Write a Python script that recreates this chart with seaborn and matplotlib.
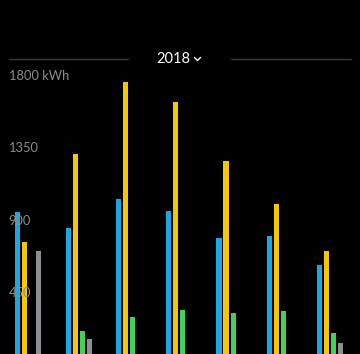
import matplotlib
matplotlib.use("Agg")
import matplotlib.pyplot as plt
from matplotlib.lines import Line2D
import seaborn as sns
import pandas as pd

months = ["Jan", "Feb", "Mar", "Apr", "May", "Jun", "Jul"]
blue_vals = [953, 854, 1034, 960, 792, 804, 624]
yellow_vals = [767, 1314, 1762, 1637, 1268, 1003, 711]
green_vals = [0, 214, 301, 344, 326, 338, 201]
gray_vals = [711, 164, 0, 0, 0, 0, 139]
series_names = ["Blue", "Yellow", "Green", "Gray"]
series_colors = ["#1aa8e4", "#f4c800", "#3ed35a", "#8e8e92"]
tick_vals = [450, 900, 1350, 1800]
tick_labels = ["450", "900", "1350", "1800 kWh"]
year_label = "2018"

rows = []
for name, vals in zip(series_names, [blue_vals, yellow_vals, green_vals, gray_vals]):
    for m, v in zip(months, vals):
        rows.append({"month": m, "series": name, "kwh": v})
df = pd.DataFrame(rows)

sns.set_style("dark")
plt.rcParams['font.family'] = ['Lato', 'DejaVu Sans']

fig = plt.figure(figsize=(3.6, 3.54), dpi=100)
fig.patch.set_facecolor("black")
ax = fig.add_axes([0, 0, 1, 1])
ax.set_facecolor("black")

sns.barplot(data=df, x="month", y="kwh", hue="series", hue_order=series_names,
            palette=series_colors, width=0.557, gap=0.28, saturation=1,
            linewidth=0, edgecolor="none", legend=False, ax=ax)

ax.set_xlim(-0.563, 6.594)
ax.set_ylim(71, 2271)
for s in ax.spines.values():
    s.set_visible(False)
ax.set_xticks([])
ax.set_yticks([])
ax.set_xlabel("")
ax.set_ylabel("")
ax.grid(False)

# y labels drawn inside the plot, on top of the bars
for v, lab in zip(tick_vals, tick_labels):
    ax.text(0.024, v, lab, transform=ax.get_yaxis_transform(), ha="left", va="center",
            color="#8c8c8c", fontsize=9.3, zorder=5)

# year selector header
ty = 1 - 59 / 354
fig.text(0.481, ty, year_label, ha="center", va="center", color="white", fontsize=10.5)
fig.add_artist(Line2D([9 / 360, 128 / 360], [ty, ty], color="#3a3a3a", lw=1))
fig.add_artist(Line2D([231 / 360, 351 / 360], [ty, ty], color="#3a3a3a", lw=1))
fig.add_artist(Line2D([194.5 / 360, 197.5 / 360, 200.5 / 360],
                      [ty + 1.5 / 354, ty - 1.5 / 354, ty + 1.5 / 354], color="white", lw=1))

fig.savefig("out.png", dpi=100, facecolor="black")
